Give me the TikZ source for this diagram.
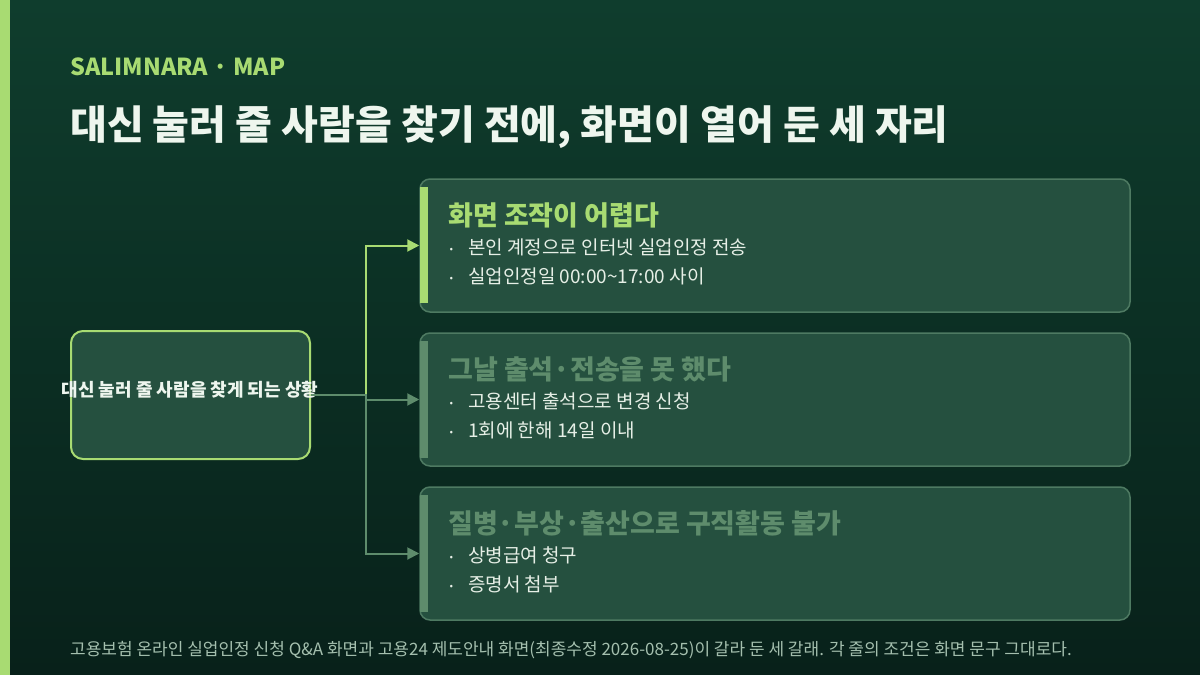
\documentclass[tikz,border=0pt]{standalone}
\usepackage{fontspec}
\setmainfont{Noto Sans CJK KR}
\usetikzlibrary{arrows.meta}
\definecolor{accent}{HTML}{A8DB72}
\definecolor{boxfill}{HTML}{25503F}
\definecolor{boxline}{HTML}{4E7A62}
\definecolor{muted}{HTML}{5E8C6C}
\definecolor{bullettext}{HTML}{E6EFE6}
\definecolor{foot}{HTML}{A4BFAE}
\definecolor{titletext}{HTML}{EEF6EE}
\definecolor{bgtop}{HTML}{0F3D2D}
\definecolor{bgbot}{HTML}{08211A}
\tikzset{
  card/.style={draw=boxline, line width=1.5pt, fill=boxfill, rounded corners=10pt, minimum width=710pt, minimum height=133pt, inner sep=0pt},
  cardtitle/.style={anchor=west, inner sep=0pt, font=\bfseries\fontsize{27}{30}\selectfont},
  bul/.style={inner sep=0pt, text=bullettext, font=\fontsize{19}{22}\selectfont, yshift=-3pt},
  bultext/.style={anchor=west, inner sep=0pt, text=bullettext, font=\fontsize{19}{22}\selectfont},
  conn/.style={line width=2pt, -{Triangle[length=12pt,width=12pt]}},
}
\newcommand{\bdot}{\vphantom{본}·}
\begin{document}
\begin{tikzpicture}[x=1pt,y=-1pt]
\useasboundingbox (0,0) rectangle (1200,675);
\fill[top color=bgtop, bottom color=bgbot] (0,0) rectangle (1200,675);
\fill[accent] (0,0) rectangle (10,675);

\node[anchor=west, inner sep=0pt, text=accent, font=\bfseries\fontsize{23.4}{26}\selectfont] (kicker) at (70,67) {SALIMNARA · MAP};
\node[anchor=west, inner sep=0pt, text=titletext, font=\bfseries\fontsize{40}{44}\selectfont] (title) at (70,127) {대신 눌러 줄 사람을 찾기 전에, 화면이 열어 둔 세 자리};

% cards
\node[card] (b1) at (775,245.5) {};
\node[card] (b2) at (775,399.5) {};
\node[card] (b3) at (775,553.5) {};
\fill[accent] (420,187) rectangle (428,303);
\fill[muted] (420,341) rectangle (428,458);
\fill[muted] (420,495) rectangle (428,612);

\node[cardtitle, text=accent] (t1) at (448,215) {화면 조작이 어렵다};
\node[bul] (d11) at (452,247) {\bdot};
\node[bultext] (l11) at (468,247) {본인 계정으로 인터넷 실업인정 전송};
\node[bul] (d12) at (452,276) {\bdot};
\node[bultext] (l12) at (468,276) {실업인정일 00:00\textasciitilde17:00 사이};

\node[cardtitle, text=muted] (t2) at (448,369) {그날 출석·전송을 못 했다};
\node[bul] (d21) at (452,401) {\bdot};
\node[bultext] (l21) at (468,401) {고용센터 출석으로 변경 신청};
\node[bul] (d22) at (452,430) {\bdot};
\node[bultext] (l22) at (468,430) {1회에 한해 14일 이내};

\node[cardtitle, text=muted] (t3) at (448,523) {질병·부상·출산으로 구직활동 불가};
\node[bul] (d31) at (452,555) {\bdot};
\node[bultext] (l31) at (468,555) {상병급여 청구};
\node[bul] (d32) at (452,584) {\bdot};
\node[bultext] (l32) at (468,584) {증명서 첨부};

% source
\node[draw=accent, line width=2pt, fill=boxfill, rounded corners=12pt, minimum width=239pt, minimum height=128pt, inner sep=0pt] (src) at (190.5,395) {};
\node[inner sep=0pt, text=titletext, font=\bfseries\fontsize{18}{21}\selectfont] (srclabel) at (190,390) {대신 눌러 줄 사람을 찾게 되는 상황};

% connectors
\draw[conn, accent] (src.east) -- ++(55,0) |- (b1.west);
\draw[conn, muted] (src.east) -- ++(55,0) |- (b2.west);
\draw[conn, muted] (src.east) -- ++(55,0) |- (b3.west);

\node[anchor=west, inner sep=0pt, text=foot, font=\fontsize{17}{20}\selectfont] (footer) at (70,650) {고용보험 온라인 실업인정 신청 Q\&A 화면과 고용24 제도안내 화면(최종수정 2026-08-25)이 갈라 둔 세 갈래. 각 줄의 조건은 화면 문구 그대로다.};
\end{tikzpicture}
\end{document}
